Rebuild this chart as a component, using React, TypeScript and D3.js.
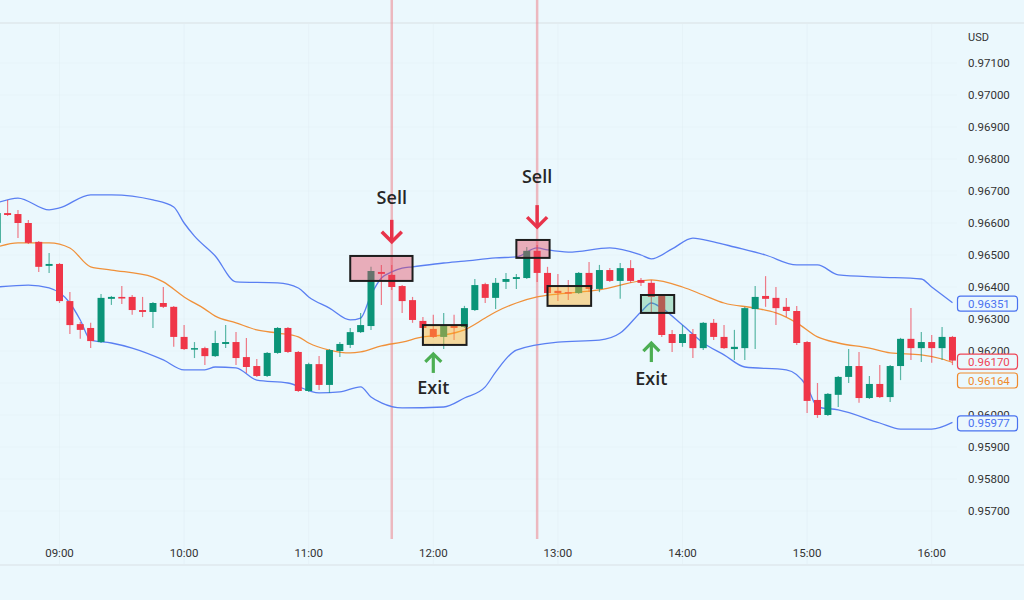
import React from "react";
import * as d3 from "d3";

const START = "08:30";
const STEP_MIN = 5;

const opens = [0.96538,0.96631,0.96628,0.96600,0.96541,0.96466,0.96472,0.96356,0.96284,0.96272,
0.96228,0.96363,0.96369,0.96369,0.96328,0.96322,0.96350,0.96338,0.96244,0.96206,
0.96209,0.96184,0.96222,0.96228,0.96181,0.96153,0.96122,0.96194,0.96272,0.96197,
0.96075,0.96159,0.96094,0.96200,0.96219,0.96259,0.96278,0.96447,0.96438,0.96403,
0.96359,0.96294,0.96269,0.96244,0.96278,0.96275,0.96328,0.96409,0.96366,0.96416,
0.96425,0.96428,0.96513,0.96444,0.96388,0.96384,0.96381,0.96444,0.96394,0.96453,
0.96419,0.96459,0.96422,0.96413,0.96375,0.96253,0.96225,0.96253,0.96209,0.96288,
0.96244,0.96206,0.96209,0.96331,0.96372,0.96366,0.96338,0.96325,0.96228,0.96047,
0.96000,0.96063,0.96119,0.96153,0.96053,0.96097,0.96056,0.96153,0.96238,0.96209,
0.96228,0.96209,0.96244];

const closes = [0.96631,0.96625,0.96600,0.96538,0.96463,0.96472,0.96356,0.96281,0.96266,0.96231,
0.96366,0.96369,0.96364,0.96328,0.96322,0.96350,0.96338,0.96244,0.96206,0.96209,
0.96184,0.96225,0.96228,0.96178,0.96150,0.96122,0.96194,0.96272,0.96197,0.96075,
0.96159,0.96094,0.96203,0.96222,0.96259,0.96281,0.96450,0.96441,0.96400,0.96356,
0.96297,0.96272,0.96244,0.96278,0.96272,0.96334,0.96406,0.96366,0.96413,0.96425,
0.96431,0.96513,0.96444,0.96381,0.96381,0.96380,0.96444,0.96394,0.96453,0.96419,
0.96459,0.96419,0.96413,0.96369,0.96250,0.96225,0.96253,0.96209,0.96288,0.96244,
0.96209,0.96213,0.96334,0.96369,0.96363,0.96334,0.96325,0.96225,0.96044,0.96000,
0.96066,0.96119,0.96153,0.96053,0.96097,0.96056,0.96153,0.96238,0.96209,0.96228,
0.96209,0.96244,0.96170];

const highs = [0.96641,0.96672,0.96641,0.96609,0.96544,0.96506,0.96475,0.96384,0.96291,0.96288,
0.96378,0.96372,0.96403,0.96375,0.96369,0.96353,0.96400,0.96341,0.96281,0.96228,
0.96213,0.96263,0.96281,0.96259,0.96241,0.96175,0.96197,0.96275,0.96275,0.96200,
0.96163,0.96184,0.96206,0.96228,0.96272,0.96319,0.96463,0.96469,0.96469,0.96406,
0.96369,0.96306,0.96313,0.96319,0.96313,0.96341,0.96425,0.96413,0.96428,0.96444,
0.96441,0.96525,0.96531,0.96463,0.96441,0.96422,0.96447,0.96478,0.96469,0.96459,
0.96475,0.96484,0.96428,0.96422,0.96378,0.96266,0.96281,0.96269,0.96291,0.96300,
0.96281,0.96266,0.96338,0.96403,0.96434,0.96400,0.96366,0.96341,0.96231,0.96100,
0.96069,0.96122,0.96206,0.96197,0.96122,0.96156,0.96156,0.96241,0.96334,0.96259,
0.96250,0.96275,0.96247];

const lows = [0.96531,0.96622,0.96553,0.96534,0.96447,0.96444,0.96350,0.96253,0.96238,0.96209,
0.96225,0.96344,0.96347,0.96313,0.96306,0.96272,0.96334,0.96213,0.96203,0.96178,
0.96156,0.96181,0.96209,0.96156,0.96131,0.96119,0.96119,0.96191,0.96194,0.96072,
0.96072,0.96078,0.96069,0.96181,0.96209,0.96256,0.96266,0.96344,0.96391,0.96319,
0.96288,0.96266,0.96241,0.96206,0.96234,0.96272,0.96325,0.96350,0.96331,0.96394,
0.96394,0.96425,0.96416,0.96372,0.96356,0.96359,0.96378,0.96384,0.96384,0.96416,
0.96363,0.96413,0.96403,0.96319,0.96244,0.96197,0.96213,0.96178,0.96203,0.96234,
0.96206,0.96172,0.96172,0.96206,0.96338,0.96281,0.96306,0.96219,0.96006,0.95991,
0.95997,0.96025,0.96100,0.96038,0.96050,0.96053,0.96041,0.96109,0.96172,0.96166,
0.96163,0.96172,0.96156];

const upperBand: [string, number][] = [["08:30",0.96663],["08:40",0.96678],["08:55",0.96641],["09:00",0.96647],["09:15",0.96688],["09:25",0.96688],["09:45",0.96672],["09:55",0.96650],["10:00",0.96600],["10:05",0.96559],["10:15",0.96497],["10:25",0.96416],["10:45",0.96413],["10:55",0.96397],["11:00",0.96369],["11:10",0.96334],["11:20",0.96297],["11:25",0.96303],["11:30",0.96375],["11:35",0.96428],["11:40",0.96447],["11:45",0.96459],["11:50",0.96463],["12:05",0.96475],["12:15",0.96481],["12:30",0.96491],["12:40",0.96494],["12:50",0.96522],["12:55",0.96516],["13:05",0.96509],["13:25",0.96522],["13:40",0.96500],["13:45",0.96488],["13:55",0.96519],["14:05",0.96553],["14:15",0.96541],["14:25",0.96525],["14:40",0.96500],["14:55",0.96469],["15:05",0.96469],["15:15",0.96438],["15:35",0.96431],["15:55",0.96425],["16:00",0.96400],["16:10",0.96351]];

const middleBand: [string, number][] = [["08:30",0.96525],["08:40",0.96538],["08:55",0.96538],["09:05",0.96522],["09:15",0.96463],["09:25",0.96453],["09:45",0.96431],["09:50",0.96416],["10:00",0.96369],["10:10",0.96331],["10:15",0.96309],["10:25",0.96288],["10:35",0.96266],["10:45",0.96256],["10:55",0.96244],["11:00",0.96225],["11:10",0.96203],["11:20",0.96194],["11:25",0.96197],["11:35",0.96216],["11:45",0.96228],["11:55",0.96244],["12:05",0.96250],["12:15",0.96266],["12:25",0.96303],["12:30",0.96322],["12:40",0.96350],["12:50",0.96369],["13:00",0.96378],["13:20",0.96391],["13:40",0.96419],["13:45",0.96422],["14:00",0.96400],["14:10",0.96375],["14:20",0.96350],["14:35",0.96334],["14:45",0.96319],["14:55",0.96288],["15:05",0.96244],["15:15",0.96225],["15:30",0.96209],["15:40",0.96194],["15:55",0.96188],["16:05",0.96175],["16:10",0.96164]];

const lowerBand: [string, number][] = [["08:30",0.96400],["08:45",0.96406],["08:55",0.96397],["09:05",0.96350],["09:10",0.96297],["09:15",0.96234],["09:25",0.96225],["09:35",0.96209],["09:50",0.96172],["10:00",0.96141],["10:10",0.96141],["10:15",0.96150],["10:25",0.96147],["10:35",0.96109],["10:50",0.96100],["11:05",0.96069],["11:15",0.96072],["11:25",0.96088],["11:30",0.96056],["11:35",0.96038],["11:45",0.96022],["12:05",0.96025],["12:15",0.96053],["12:25",0.96088],["12:30",0.96134],["12:40",0.96203],["13:00",0.96228],["13:20",0.96234],["13:30",0.96256],["13:40",0.96322],["13:45",0.96350],["13:50",0.96334],["14:00",0.96281],["14:10",0.96225],["14:20",0.96188],["14:30",0.96150],["14:50",0.96141],["15:00",0.96088],["15:05",0.96025],["15:15",0.96016],["15:35",0.95975],["15:45",0.95956],["16:00",0.95956],["16:10",0.95977]];

const priceTicks = [0.957,0.958,0.959,0.960,0.961,0.962,0.963,0.964,0.965,0.966,0.967,0.968,0.969,0.970,0.971];
const hiddenPriceTicks = [0.961];
const timeTicks = ["09:00","10:00","11:00","12:00","13:00","14:00","15:00","16:00"];

const signalLines = ["11:40", "12:50"];

const boxes = [
  { t0: "11:20", t1: "11:50", top: 0.96497, bottom: 0.96419, kind: "sell" },
  { t0: "12:40", t1: "12:56", top: 0.96547, bottom: 0.96491, kind: "sell" },
  { t0: "11:55", t1: "12:16", top: 0.96281, bottom: 0.96219, kind: "exit" },
  { t0: "12:55", t1: "13:16", top: 0.96403, bottom: 0.96341, kind: "exit" },
  { t0: "13:40", t1: "13:56", top: 0.96375, bottom: 0.96319, kind: "exitGreen" },
];

const sellSignals = [
  { time: "11:40", tip: 0.96538, label: 0.96678, text: "Sell" },
  { time: "12:50", tip: 0.96584, label: 0.96744, text: "Sell" },
];
const exitSignals = [
  { time: "12:00", tip: 0.96194, label: 0.96084, text: "Exit" },
  { time: "13:45", tip: 0.96228, label: 0.96113, text: "Exit" },
];

const priceLabels = [
  { value: 0.96351, text: "0.96351", color: "#4a72f0", dy: 0 },
  { value: 0.96170, text: "0.96170", color: "#ef4657", dy: 0 },
  { value: 0.96164, text: "0.96164", color: "#f08a2c", dy: 17 },
  { value: 0.95977, text: "0.95977", color: "#4a72f0", dy: 0 },
];

const toDate = (s: string) => {
  const [h, m] = s.split(":").map(Number);
  return new Date(2024, 0, 2, h, m);
};

const W = 1024, H = 600;
const BG = "#ebf8fd";
const UP = "#0b9478";
const DOWN = "#ef3648";

export default function App() {
  const x = d3.scaleTime().domain([toDate("09:00"), toDate("16:00")]).range([59.5, 931.7]);
  const y = d3.scaleLinear().domain([0.957, 0.971]).range([511, 63]);
  const start = toDate(START);
  const candles = opens.map((o, i) => ({
    t: d3.timeMinute.offset(start, i * STEP_MIN),
    o, c: closes[i], h: highs[i], l: lows[i],
  }));
  const line = d3.line<[string, number]>().x(d => x(toDate(d[0]))).y(d => y(d[1])).curve(d3.curveMonotoneX);
  const fmt = d3.format(".5f");
  const bw = 7;
  const plotRight = 957;

  const boxFill: Record<string, string> = {
    sell: "rgba(228,70,92,0.42)",
    exit: "rgba(255,178,40,0.45)",
    exitGreen: "rgba(60,180,110,0.33)",
  };

  return (
    <div style={{ position: "absolute", left: 0, top: 0, width: W, height: H, background: BG }}>
      <svg width={W} height={H} style={{ display: "block" }} fontFamily="Roboto, 'Liberation Sans', sans-serif">
        <rect x={0} y={0} width={W} height={H} fill={BG} />
        <line x1={0} x2={W} y1={23} y2={23} stroke="#e2ecf0" strokeWidth={2} />
        {/* grid */}
        {priceTicks.map(v => (
          <line key={"gy" + v} x1={0} x2={plotRight} y1={y(v)} y2={y(v)} stroke="#d9e8ef" strokeOpacity={0.3} strokeWidth={1} />
        ))}
        {timeTicks.map(t => (
          <line key={"gx" + t} x1={x(toDate(t))} x2={x(toDate(t))} y1={24} y2={564} stroke="#d9e8ef" strokeOpacity={0.3} strokeWidth={1} />
        ))}
        {/* signal vertical lines */}
        {signalLines.map(t => (
          <line key={"sl" + t} x1={x(toDate(t))} x2={x(toDate(t))} y1={0} y2={539} stroke="rgba(238,120,130,0.5)" strokeWidth={2.5} />
        ))}
        {/* bands */}
        <path d={line(upperBand) || ""} fill="none" stroke="#5a7ff2" strokeWidth={1.3} />
        <path d={line(lowerBand) || ""} fill="none" stroke="#5a7ff2" strokeWidth={1.3} />
        <path d={line(middleBand) || ""} fill="none" stroke="#f0913a" strokeWidth={1.3} />
        {/* candles */}
        {candles.map((d, i) => {
          const cx = x(d.t);
          const up = d.c >= d.o;
          const col = up ? UP : DOWN;
          const top = y(Math.max(d.o, d.c));
          const bot = y(Math.min(d.o, d.c));
          return (
            <g key={i}>
              <line x1={cx} x2={cx} y1={y(d.h)} y2={y(d.l)} stroke={col} strokeOpacity={0.65} strokeWidth={1.2} />
              <rect x={cx - bw / 2} y={top} width={bw} height={Math.max(1.5, bot - top)} fill={col} />
            </g>
          );
        })}
        {/* boxes */}
        {boxes.map((b, i) => {
          const x0 = x(toDate(b.t0)), x1 = x(toDate(b.t1));
          const y0 = y(b.top), y1 = y(b.bottom);
          return <rect key={"b" + i} x={x0} y={y0} width={x1 - x0} height={y1 - y0} fill={boxFill[b.kind]} stroke="#1d1d1d" strokeWidth={2} />;
        })}
        {/* sell signals */}
        {sellSignals.map((s, i) => {
          const cx = x(toDate(s.time));
          const ty = y(s.tip);
          return (
            <g key={"s" + i}>
              <text x={cx} y={y(s.label)} dy="0.35em" textAnchor="middle" fontFamily="'Open Sans', sans-serif" fontWeight={600} fontSize={18} fill="#262626">{s.text}</text>
              <line x1={cx} x2={cx} y1={ty - 23} y2={ty - 1} stroke="#e8334a" strokeWidth={3.5} />
              <polyline points={`${cx - 10},${ty - 11} ${cx},${ty - 1} ${cx + 10},${ty - 11}`} fill="none" stroke="#e8334a" strokeWidth={3.5} />
            </g>
          );
        })}
        {/* exit signals */}
        {exitSignals.map((s, i) => {
          const cx = x(toDate(s.time));
          const ty = y(s.tip);
          return (
            <g key={"e" + i}>
              <line x1={cx} x2={cx} y1={ty + 1} y2={ty + 20} stroke="#4cae52" strokeWidth={3.2} />
              <polyline points={`${cx - 8},${ty + 9} ${cx},${ty + 1} ${cx + 8},${ty + 9}`} fill="none" stroke="#4cae52" strokeWidth={3.2} />
              <text x={cx} y={y(s.label)} dy="0.35em" textAnchor="middle" fontFamily="'Open Sans', sans-serif" fontWeight={600} fontSize={18} fill="#262626">{s.text}</text>
            </g>
          );
        })}
        {/* right axis */}
        <text x={968} y={37} dy="0.35em" fontSize={11} fill="#333">USD</text>
        {priceTicks.filter(v => !hiddenPriceTicks.includes(v)).map(v => (
          <text key={"pt" + v} x={968} y={y(v)} dy="0.35em" fontSize={11.5} fill="#333">{fmt(v)}</text>
        ))}
        {priceLabels.map((p, i) => {
          const cy = y(p.value) + 1 + p.dy;
          return (
            <g key={"pl" + i}>
              <rect x={957.5} y={cy - 7.5} width={60} height={15} rx={3} fill={BG} stroke={p.color} strokeWidth={1.2} />
              <text x={968} y={cy} dy="0.35em" fontSize={11.5} fill={p.color}>{p.text}</text>
            </g>
          );
        })}
        {/* time axis */}
        <line x1={0} x2={W} y1={565} y2={565} stroke="#dfe9ed" strokeWidth={1.5} />
        {timeTicks.map(t => (
          <text key={"tt" + t} x={x(toDate(t))} y={553} dy="0.35em" textAnchor="middle" fontSize={11.5} fill="#333">{t}</text>
        ))}
      </svg>
    </div>
  );
}
